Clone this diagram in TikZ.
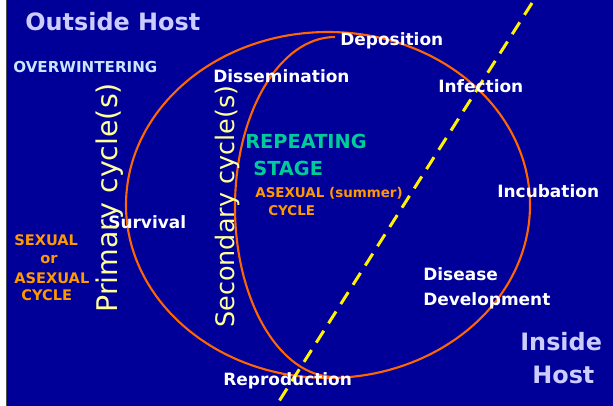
\documentclass[tikz,border=0pt]{standalone}
\usepackage{fontspec}
\setmainfont{DejaVu Sans}
\definecolor{slideblue}{RGB}{0,0,153}
\definecolor{ringorange}{RGB}{255,102,0}
\definecolor{hostlilac}{RGB}{204,204,255}
\definecolor{winterblue}{RGB}{200,230,255}
\definecolor{stageteal}{RGB}{0,204,153}
\definecolor{cycleorange}{RGB}{255,153,0}
\definecolor{cycleyellow}{RGB}{255,255,153}
\begin{document}
\begin{tikzpicture}[x=0.02cm,y=-0.02cm,
  every node/.style={anchor=base west,inner sep=0pt},
  stagelbl/.style={text=white,font=\bfseries\fontsize{9.65pt}{11pt}\selectfont},
  hostlbl/.style={text=hostlilac,font=\bfseries\fontsize{13.6pt}{15pt}\selectfont},
  cycletxt/.style={text=cycleorange,font=\bfseries\fontsize{8.3pt}{9pt}\selectfont},
  cyclename/.style={text=cycleyellow,rotate=90},
  ring/.style={draw=ringorange,line width=1.2pt}]
\useasboundingbox (0,0) rectangle (613,406);
\fill[white] (0,0) rectangle (613,406);
\fill[black!70] (6,0) rectangle (7.4,406);
\fill[slideblue] (7.4,0) rectangle (613,406);
% the two cycles
\draw[ring] (328,205) ellipse [x radius=202,y radius=173];
\coordinate (innertop) at (335,37);
\draw[ring] (innertop) arc [start angle=270,end angle=90,x radius=100,y radius=170];
% host boundary
\coordinate (linetop) at (532,3);
\coordinate (linebot) at (276,406);
\draw[yellow,line width=1.7pt,dash pattern=on 8pt off 5pt] (linetop) -- (linebot);
% outside / inside
\node[hostlbl] (outside) at (25,30) {Outside Host};
\node[text=winterblue,font=\bfseries\fontsize{8.6pt}{10pt}\selectfont] (winter) at (13,72) {OVERWINTERING};
\node[hostlbl] (inside) at (520,350) {Inside};
\node[hostlbl] (host) at (532,383) {Host};
% stages
\node[stagelbl] (depo) at (340,45) {Deposition};
\node[stagelbl] (dissem) at (213,82) {Dissemination};
\node[stagelbl] (infect) at (438,92) {Infection};
\node[stagelbl] (incub) at (497,197) {Incubation};
\node[stagelbl] (surv) at (108,228) {Survival};
\node[stagelbl] (disease) at (423,280) {Disease};
\node[stagelbl] (develop) at (423,305) {Development};
\node[stagelbl] (repro) at (223,385) {Reproduction};
% repeating stage
\node[text=stageteal,font=\bfseries\fontsize{11pt}{13pt}\selectfont] (repeat) at (245,148) {REPEATING};
\node[text=stageteal,font=\bfseries\fontsize{11pt}{13pt}\selectfont] (stage) at (253,175) {STAGE};
\node[cycletxt,font=\bfseries\fontsize{7.65pt}{9pt}\selectfont] (asexsum) at (255,197) {ASEXUAL (summer)};
\node[cycletxt,font=\bfseries\fontsize{7.65pt}{9pt}\selectfont] (asexcyc) at (268,215) {CYCLE};
% sexual cycle
\node[cycletxt] (sexual) at (14,245) {SEXUAL};
\node[cycletxt] (orword) at (40,263) {or};
\node[cycletxt] (asexual) at (14,283) {ASEXUAL};
\node[cycletxt] (sexcyc) at (21,300) {CYCLE};
% cycle names
\node[cyclename,font=\fontsize{16.2pt}{18pt}\selectfont] (primary) at (117,313) {Primary cycle(s)};
\node[cyclename,font=\fontsize{14.5pt}{17pt}\selectfont] (secondary) at (235,328) {Secondary cycle(s)};
\end{tikzpicture}
\end{document}
